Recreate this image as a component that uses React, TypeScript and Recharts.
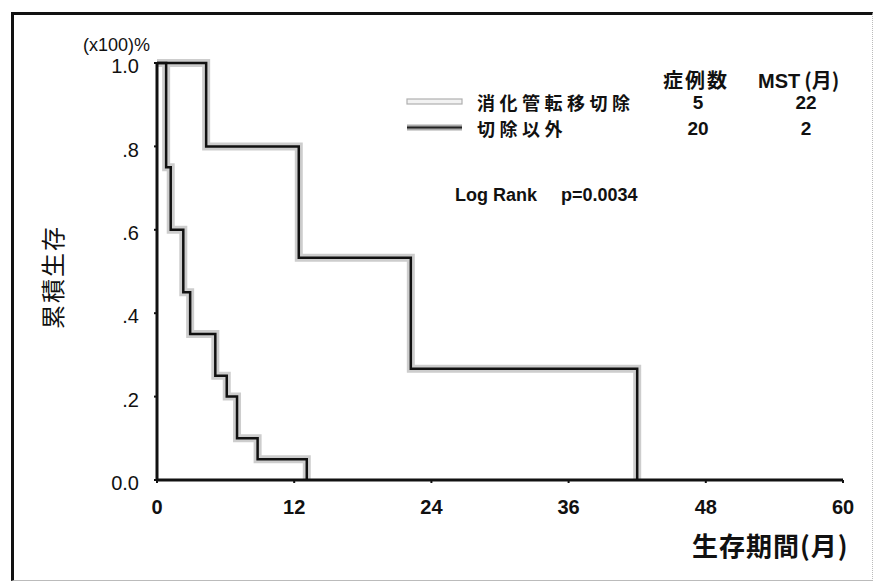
import { LineChart, Line, XAxis, YAxis } from "recharts";

// Kaplan-Meier estimates: time of each step (months) and survival after it
const resectedMonths = [0, 4.3, 12.4, 22.2, 42];
const resectedSurvival = [1, 0.8, 0.533, 0.267, 0];
const otherMonths = [0, 0.8, 1.2, 2.3, 2.9, 5.1, 6.1, 7.0, 8.8, 13.1];
const otherSurvival = [1, 0.75, 0.6, 0.45, 0.35, 0.25, 0.2, 0.1, 0.05, 0];

const groupNames = ["消化管転移切除", "切除以外"];
const caseCounts = [5, 20];
const mstMonths = [22, 2];
const logRankP = "0.0034";

const xTicks = [0, 12, 24, 36, 48, 60];
const yTicks = [0, 0.2, 0.4, 0.6, 0.8, 1];

const toPoints = (months: number[], surv: number[]) =>
  months.map((t, i) => ({ t, s: surv[i] }));

const resected = toPoints(resectedMonths, resectedSurvival);
const other = toPoints(otherMonths, otherSurvival);

const latin = "'Liberation Sans Narrow', 'Liberation Sans', Arial, sans-serif";
const latinBold = "'Liberation Sans', Arial, sans-serif";
const cjk = "'Noto Sans CJK JP', 'Noto Sans', sans-serif";

const yFormat = (v: number) => (v === 0 ? "0.0" : v === 1 ? "1.0" : "." + Math.round(v * 10));

const HALO = "#cdcdcd";

const rowTop = (i: number) => 93 + i * 26;

export default function App() {
  return (
    <div style={{ position: "relative", width: 879, height: 584, background: "#fff", overflow: "hidden" }}>
      <style>{`body{margin:0}`}</style>
      {/* outer frame */}
      <div
        style={{
          position: "absolute",
          left: 11,
          top: 12,
          width: 862,
          height: 569,
          borderLeft: "3px solid #111",
          borderTop: "3px solid #111",
          borderRight: "1px dotted #bbb",
          borderBottom: "1px solid #bbb",
          boxSizing: "border-box",
        }}
      />
      <LineChart
        width={879}
        height={584}
        margin={{ top: 63, right: 36, bottom: 74, left: 97 }}
        style={{ position: "absolute", left: 0, top: 0 }}
      >
        <XAxis
          type="number"
          dataKey="t"
          domain={[0, 60]}
          ticks={xTicks}
          allowDuplicatedCategory={false}
          height={30}
          axisLine={{ stroke: "#111", strokeWidth: 3 }}
          tickLine={{ stroke: "#111", strokeWidth: 2 }}
          tickSize={3}
          tickMargin={17}
          tick={{ fontSize: 20, fill: "#111", fontFamily: latin, fontWeight: 700 }}
        />
        <YAxis
          type="number"
          dataKey="s"
          domain={[0, 1]}
          ticks={yTicks}
          width={60}
          tickFormatter={yFormat}
          axisLine={{ stroke: "#111", strokeWidth: 3 }}
          tickLine={{ stroke: "#111", strokeWidth: 2 }}
          tickSize={3}
          tickMargin={15}
          tick={{ fontSize: 20, fill: "#111", fontFamily: latin, dy: 3 }}
        />
        <Line data={resected} dataKey="s" type="stepAfter" stroke={HALO} strokeWidth={8} dot={false} isAnimationActive={false} />
        <Line data={other} dataKey="s" type="stepAfter" stroke={HALO} strokeWidth={8} dot={false} isAnimationActive={false} />
        <Line data={resected} dataKey="s" type="stepAfter" stroke="#111" strokeWidth={2.5} dot={false} isAnimationActive={false} />
        <Line data={other} dataKey="s" type="stepAfter" stroke="#111" strokeWidth={2.5} dot={false} isAnimationActive={false} />
      </LineChart>

      {/* unit above the y axis */}
      <div style={{ position: "absolute", left: 83, top: 36, fontSize: 18, lineHeight: 1, fontFamily: latin, color: "#111" }}>
        (x100)%
      </div>

      {/* y axis title */}
      <div
        style={{
          position: "absolute",
          left: 52,
          top: 277,
          transform: "translate(-50%, -50%) rotate(-90deg)",
          fontSize: 24,
          lineHeight: 1,
          fontFamily: cjk,
          color: "#111",
          whiteSpace: "nowrap",
          letterSpacing: 2,
        }}
      >
        累積生存
      </div>

      {/* x axis title */}
      <div
        style={{
          position: "absolute",
          left: 692,
          top: 532,
          fontSize: 26,
          lineHeight: 1,
          letterSpacing: 1,
          fontFamily: cjk,
          fontWeight: 700,
          color: "#111",
          whiteSpace: "nowrap",
        }}
      >
        生存期間(月)
      </div>

      {/* legend table */}
      <div style={{ position: "absolute", left: 0, top: 0, fontFamily: cjk, fontWeight: 700, color: "#111", lineHeight: 1 }}>
        <div style={{ position: "absolute", left: 663, top: 70, fontSize: 20, letterSpacing: 2, whiteSpace: "nowrap" }}>症例数</div>
        <div style={{ position: "absolute", left: 758, top: 70, fontSize: 20, whiteSpace: "nowrap", fontFamily: latinBold }}>
          MST
          <span style={{ fontFamily: cjk, marginLeft: 4 }}>(月)</span>
        </div>
        {groupNames.map((name, i) => (
          <div key={name}>
            <svg style={{ position: "absolute", left: 405, top: rowTop(i) + 4 }} width={60} height={10}>
              {i === 0 ? (
                <rect x={2} y={2} width={55} height={5} fill="#f2f2f2" stroke="#b0b0b0" strokeWidth={1.2} />
              ) : (
                <>
                  <rect x={2} y={1.5} width={55} height={6} fill="#aaa" />
                  <line x1={2} x2={57} y1={4.5} y2={4.5} stroke="#222" strokeWidth={2} />
                </>
              )}
            </svg>
            <div style={{ position: "absolute", left: 477, top: rowTop(i), fontSize: 18, letterSpacing: 4.5, whiteSpace: "nowrap" }}>
              {name}
            </div>
            <div
              style={{
                position: "absolute",
                left: 678,
                width: 40,
                textAlign: "center",
                top: rowTop(i),
                fontSize: 19,
                fontFamily: latinBold,
              }}
            >
              {caseCounts[i]}
            </div>
            <div
              style={{
                position: "absolute",
                left: 786,
                width: 40,
                textAlign: "center",
                top: rowTop(i),
                fontSize: 19,
                fontFamily: latinBold,
              }}
            >
              {mstMonths[i]}
            </div>
          </div>
        ))}
        <div style={{ position: "absolute", left: 455, top: 186, fontSize: 18, fontFamily: latinBold, whiteSpace: "nowrap" }}>
          Log Rank
          <span style={{ marginLeft: 24 }}>p={logRankP}</span>
        </div>
      </div>
    </div>
  );
}
